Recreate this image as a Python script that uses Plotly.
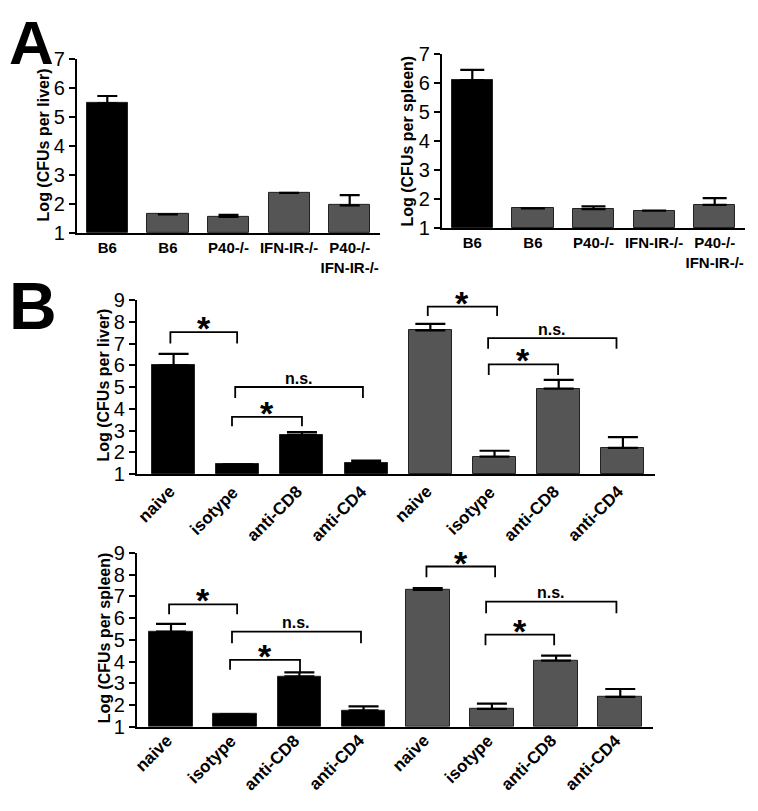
import plotly.graph_objects as go

# ---------------- data ----------------
a_categories = ["B6", "B6", "P40-/-", "IFN-IR-/-", "P40-/-<br>IFN-IR-/-"]
a_colors = ["#000000", "#555555", "#555555", "#555555", "#555555"]
a_liver = [5.47, 1.64, 1.55, 2.38, 1.95]
a_liver_err = [0.25, None, 0.07, None, 0.35]
a_spleen = [6.1, 1.68, 1.65, 1.6, 1.8]
a_spleen_err = [0.35, None, 0.1, None, 0.23]

b_categories = ["naive", "isotype", "anti-CD8", "anti-CD4",
                "naive", "isotype", "anti-CD8", "anti-CD4"]
b_colors = ["#000000"] * 4 + ["#555555"] * 4
b_liver = [6.0, 1.45, 2.8, 1.52, 7.6, 1.8, 4.93, 2.2]
b_liver_err = [0.52, None, 0.13, 0.1, 0.3, 0.27, 0.4, 0.5]
b_spleen = [5.38, 1.58, 3.32, 1.76, 7.3, 1.83, 4.04, 2.38]
b_spleen_err = [0.35, None, 0.18, 0.18, 0.08, 0.24, 0.23, 0.36]

# significance brackets: x_left, x_right, y_top, y_left_end, y_right_end, label
b_liver_sig = [
    (-0.05, 0.99, 7.52, 7.0, 7.0, "*"),
    (0.96, 2.95, 5.0, 4.5, 4.5, "n.s."),
    (0.91, 2.0, 3.63, 3.2, 3.2, "*"),
    (3.96, 5.04, 8.7, 8.27, 8.27, "*"),
    (4.9, 6.9, 7.25, 6.76, 6.76, "n.s."),
    (4.91, 5.99, 6.04, 5.55, 5.55, "*"),
]
b_spleen_sig = [
    (-0.03, 1.03, 6.63, 6.18, 6.18, "*"),
    (0.95, 2.96, 5.38, 4.84, 4.84, "n.s."),
    (0.92, 2.01, 4.08, 3.63, 3.5, "*"),
    (3.98, 5.05, 8.37, 7.88, 7.88, "*"),
    (4.91, 6.94, 6.76, 6.22, 6.22, "n.s."),
    (4.9, 5.97, 5.24, 4.75, 4.75, "*"),
]

# page has an 8px body margin: figure is placed at (8, 8)
OFF = 8
W, H = 758 - 2 * OFF, 811 - 2 * OFF
FONT = "Liberation Sans, Arial, sans-serif"


def px_x(a, b):
    return [(a - OFF) / W, (b - OFF) / W]


def px_y(top, bottom):
    return [1 - (bottom - OFF) / H, 1 - (top - OFF) / H]


fig = go.Figure()


def add_bars(values, errs, colors, xa, ya, capw, bw):
    xs = list(range(len(values)))
    fig.add_trace(go.Bar(
        x=xs, y=[v - 1 for v in values], base=1,
        marker=dict(color=colors, line=dict(color="#222222", width=1)),
        width=bw,
        error_y=dict(type="data", symmetric=False, array=errs,
                     arrayminus=[0] * len(values), color="black",
                     thickness=2.2, width=capw),
        xaxis=xa, yaxis=ya, showlegend=False, hoverinfo="skip"))


add_bars(a_liver, a_liver_err, a_colors, "x", "y", 10, 0.68)
add_bars(a_spleen, a_spleen_err, a_colors, "x2", "y2", 12, 0.68)
add_bars(b_liver, b_liver_err, b_colors, "x3", "y3", 15, 0.67)
add_bars(b_spleen, b_spleen_err, b_colors, "x4", "y4", 15, 0.68)

yax_common = dict(showline=True, linecolor="black", linewidth=2.2,
                  ticks="outside", ticklen=6, tickwidth=2, tickcolor="black",
                  showgrid=False, zeroline=False,
                  tickfont=dict(family=FONT, size=20, color="black"))
xax_common = dict(showline=True, linecolor="black", linewidth=2.2,
                  ticks="", showgrid=False, zeroline=False)

fig.update_layout(
    width=W, height=H, margin=dict(l=0, r=0, t=0, b=0),
    plot_bgcolor="white", paper_bgcolor="white", bargap=0,
    xaxis=dict(domain=px_x(77, 380), range=[-0.5, 4.5], tickvals=list(range(5)),
               ticktext=["<b>%s</b>" % c for c in a_categories], anchor="y",
               tickangle=0,
               tickfont=dict(family=FONT, size=15, color="black"), **xax_common),
    yaxis=dict(domain=px_y(49, 228), range=[1, 7], dtick=1, anchor="x", **yax_common),
    xaxis2=dict(domain=px_x(442, 745), range=[-0.5, 4.5], tickvals=list(range(5)),
                ticktext=["<b>%s</b>" % c for c in a_categories], anchor="y2",
                tickangle=0,
                tickfont=dict(family=FONT, size=15, color="black"), **xax_common),
    yaxis2=dict(domain=px_y(44, 223), range=[1, 7], dtick=1, anchor="x2", **yax_common),
    xaxis3=dict(domain=px_x(137, 655), range=[-0.57, 7.5], tickvals=list(range(8)),
                showticklabels=False, anchor="y3", **xax_common),
    yaxis3=dict(domain=px_y(297, 476), range=[1, 9], dtick=1, anchor="x3", **yax_common),
    xaxis4=dict(domain=px_x(137, 653), range=[-0.53, 7.51], tickvals=list(range(8)),
                showticklabels=False, anchor="y4", **xax_common),
    yaxis4=dict(domain=px_y(557, 736), range=[1, 9], dtick=1, anchor="x4", **yax_common),
)

annotations = []
shapes = []


def add_sig(sigs, xa, ya):
    for (xl, xr, yt, yl, yr, lab) in sigs:
        shapes.append(dict(type="path", xref=xa, yref=ya,
                           path="M %s,%s L %s,%s L %s,%s L %s,%s" % (xl, yl, xl, yt, xr, yt, xr, yr),
                           line=dict(color="black", width=1.8)))
        if lab == "*":
            annotations.append(dict(x=(xl + xr) / 2, y=yt, xref=xa, yref=ya,
                                    text="<b>*</b>", showarrow=False,
                                    font=dict(family=FONT, size=34, color="black"),
                                    yanchor="middle", yshift=4))
        else:
            annotations.append(dict(x=(xl + xr) / 2, y=yt, xref=xa, yref=ya,
                                    text="<b>%s</b>" % lab, showarrow=False,
                                    font=dict(family=FONT, size=16, color="black"),
                                    yanchor="middle", yshift=9))


add_sig(b_liver_sig, "x3", "y3")
add_sig(b_spleen_sig, "x4", "y4")

# rotated category labels for panel B
for xa, ya, ys in [("x3", "y3", -7), ("x4", "y4", -3)]:
    for i, c in enumerate(b_categories):
        annotations.append(dict(x=i, y=0, xref=xa, yref=ya + " domain",
                                text="<b>%s</b>" % c, textangle=-45, showarrow=False,
                                xanchor="right", yanchor="top", xshift=6, yshift=ys,
                                borderpad=0,
                                font=dict(family=FONT, size=17, color="black")))

# y-axis titles
for (xc, yc, txt) in [(43, 138, "Log (CFUs per liver)"), (408, 133, "Log (CFUs per spleen)"),
                      (104, 385, "Log (CFUs per liver)"), (104, 645, "Log (CFUs per spleen)")]:
    annotations.append(dict(x=(xc - OFF) / W, y=1 - (yc - OFF) / H, xref="paper", yref="paper",
                            text="<b>%s</b>" % txt, textangle=-90, showarrow=False,
                            font=dict(family=FONT, size=16, color="black"),
                            xanchor="center", yanchor="middle"))

# panel letters
annotations.append(dict(x=0, y=1, xref="paper", yref="paper", yshift=12,
                        text="<b>A</b>", showarrow=False, xanchor="left", yanchor="top",
                        borderpad=0, font=dict(family=FONT, size=62, color="black")))
annotations.append(dict(x=0, y=1 - (303 - OFF) / H, xref="paper", yref="paper",
                        text="<b>B</b>", showarrow=False, xanchor="left", yanchor="middle",
                        borderpad=0, font=dict(family=FONT, size=66, color="black")))

fig.update_layout(annotations=annotations, shapes=shapes)
fig.write_html("out.html")
